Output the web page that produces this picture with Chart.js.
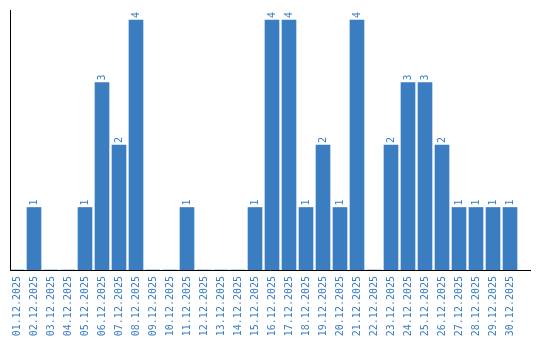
<!DOCTYPE html>
<html>
<head>
<meta charset="utf-8">
<script src="https://cdn.jsdelivr.net/npm/chart.js@4.4.1/dist/chart.umd.min.js"></script>
<style>
  html, body { margin: 0; padding: 0; background: #fff; }
</style>
</head>
<body>
<canvas id="grafico" width="540" height="340"></canvas>
<script>
// dias del mes
var fechas = [
  '01.12.2025', '02.12.2025', '03.12.2025', '04.12.2025', '05.12.2025',
  '06.12.2025', '07.12.2025', '08.12.2025', '09.12.2025', '10.12.2025',
  '11.12.2025', '12.12.2025', '13.12.2025', '14.12.2025', '15.12.2025',
  '16.12.2025', '17.12.2025', '18.12.2025', '19.12.2025', '20.12.2025',
  '21.12.2025', '22.12.2025', '23.12.2025', '24.12.2025', '25.12.2025',
  '26.12.2025', '27.12.2025', '28.12.2025', '29.12.2025', '30.12.2025'
];
// cantidad por dia
var cantidades = [
  0, 1, 0, 0, 1, 3, 2, 4, 0, 0,
  1, 0, 0, 0, 1, 4, 4, 1, 2, 1,
  4, 0, 2, 3, 3, 2, 1, 1, 1, 1
];

var azul = '#3b7dc1';
var fuente = 'DejaVu Sans Mono';

// etiquetas giradas encima de cada barra
var etiquetasValor = {
  id: 'etiquetasValor',
  afterDatasetsDraw: function (chart) {
    var ctx = chart.ctx;
    var meta = chart.getDatasetMeta(0);
    ctx.save();
    ctx.fillStyle = azul;
    ctx.font = '10px "' + fuente + '"';
    ctx.textAlign = 'left';
    ctx.textBaseline = 'middle';
    meta.data.forEach(function (barra, i) {
      var v = cantidades[i];
      if (!v) return;
      ctx.save();
      ctx.translate(barra.x, barra.y - 2);
      ctx.rotate(-Math.PI / 2);
      ctx.fillText(String(v), 0, 0);
      ctx.restore();
    });
    ctx.restore();
  }
};

var ctx = document.getElementById('grafico').getContext('2d');
var grafico = new Chart(ctx, {
  type: 'bar',
  data: {
    datasets: [{
      data: cantidades.map(function (v, i) { return { x: i, y: v }; }),
      backgroundColor: azul,
      borderWidth: 0,
      barThickness: 14
    }]
  },
  options: {
    responsive: false,
    animation: false,
    layout: { padding: { top: 10, right: 10, left: 0, bottom: 0 } },
    plugins: {
      legend: { display: false },
      tooltip: { enabled: false }
    },
    scales: {
      x: {
        type: 'linear',
        offset: false,
        min: -7 / 17,
        max: -7 / 17 + 520 / 17,
        grid: { display: false, drawTicks: false, offset: false },
        border: { display: true, color: '#000', width: 1 },
        afterFit: function (s) {
          s.height = 70;
          s.paddingLeft = 0;
          s.paddingRight = 0;
        },
        ticks: {
          stepSize: 1,
          includeBounds: false,
          autoSkip: false,
          minRotation: 90,
          maxRotation: 90,
          padding: 6,
          color: azul,
          font: { family: fuente, size: 10 },
          callback: function (valor) { return fechas[valor] || ''; }
        }
      },
      y: {
        min: 0,
        max: 4.16,
        grid: { display: false, drawTicks: false },
        border: { display: true, color: '#000', width: 1 },
        afterFit: function (s) { s.width = 10; },
        ticks: { display: false }
      }
    }
  },
  plugins: [etiquetasValor]
});
</script>
</body>
</html>
